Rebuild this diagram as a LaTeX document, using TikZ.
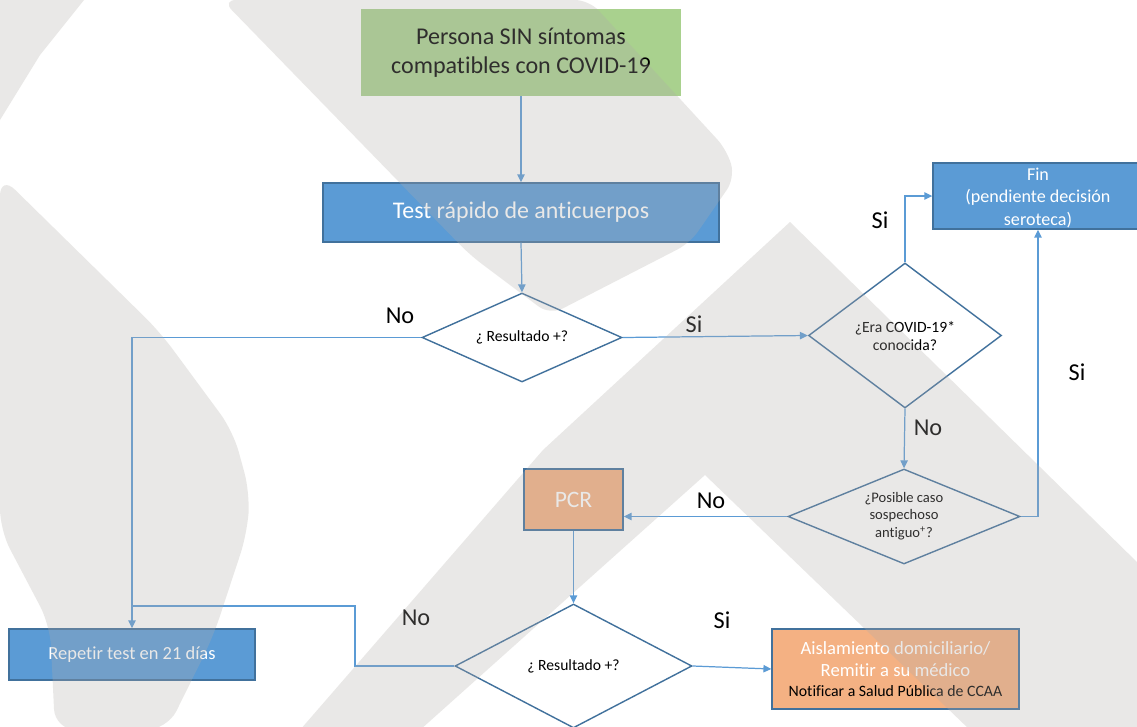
\documentclass[tikz,border=0pt]{standalone}
\usepackage{fontspec}
\setmainfont{Carlito}[Ligatures=NoCommon]
\usetikzlibrary{shapes.geometric,arrows.meta}
\definecolor{boxblue}{RGB}{91,155,213}
\definecolor{boxborder}{RGB}{65,113,156}
\definecolor{boxgreen}{RGB}{169,209,142}
\definecolor{boxorange}{RGB}{244,177,131}
\definecolor{connblue}{RGB}{91,155,213}
\definecolor{wmgray}{RGB}{176,172,169}
\begin{document}
\begin{tikzpicture}[x=0.02cm,y=-0.02cm,
  box/.style={rectangle,inner sep=0pt,align=center},
  bluebox/.style={box,fill=boxblue,draw=boxborder,line width=0.8pt,text=white},
  orangebox/.style={box,fill=boxorange,draw=boxborder,line width=0.8pt,text=white},
  dia/.style={diamond,draw=boxborder,line width=0.8pt,inner sep=0pt},
  diatext/.style={inner sep=0pt,align=center,text=black},
  conn/.style={draw=connblue,line width=0.7pt},
  arr/.style={conn,-{Triangle[length=4.5pt,width=4.2pt]}},
  lbl/.style={inner sep=0pt,font=\fontsize{13.8}{16}\selectfont},
  wm/.style={fill=wmgray,opacity=0.27}
]
\useasboundingbox (0,0) rectangle (1137,727);
\fill[white] (0,0) rectangle (1137,727);

% boxes
\node[box,fill=boxgreen,minimum width=6.4cm,minimum height=1.74cm,
      font=\fontsize{13.7}{16.5}\selectfont] (green) at (521,52.5)
      {Persona SIN síntomas\\compatibles con COVID-19};
\node[bluebox,minimum width=7.92cm,minimum height=1.18cm,
      font=\fontsize{13.6}{16}\selectfont] (test) at (521,212.5)
      {Test rápido de anticuerpos};
\node[bluebox,minimum width=4.2cm,minimum height=1.32cm] (fin) at (1038,196) {};
\node[inner sep=0pt,align=center,text=white,font=\fontsize{10.3}{12.8}\selectfont]
      (fint) at (1038,198) {Fin\\(pendiente decisión\\seroteca)};
\node[orangebox,minimum width=1.98cm,minimum height=1.22cm,
      font=\fontsize{13.4}{16}\selectfont] (pcr) at (573.5,499.5) {PCR};
\node[bluebox,minimum width=4.92cm,minimum height=1.02cm,
      font=\fontsize{10.5}{12.6}\selectfont] (rep) at (132,654.5)
      {Repetir test en 21 días};
\node[orangebox,minimum width=4.94cm,minimum height=1.6cm,
      font=\fontsize{10.6}{12.6}\selectfont] (ais) at (895.5,669)
      {Aislamiento domiciliario/\\Remitir a su médico\\[-1.5pt]
       {\fontsize{9}{11}\selectfont\color{black}Notificar a Salud Pública de CCAA}};

% decisions
\node[dia,minimum width=4cm,minimum height=1.78cm] (d1) at (522,337.5) {};
\node[diatext,font=\fontsize{8.9}{10.5}\selectfont] (d1t) at (d1) {¿ Resultado +?};
\node[dia,minimum width=3.86cm,minimum height=2.9cm] (d2) at (905,335.5) {};
\node[diatext,font=\fontsize{8.9}{10.3}\selectfont] (d2t) at (905,336) {¿Era COVID-19*\\conocida?};
\node[dia,minimum width=4.64cm,minimum height=1.9cm] (d3) at (904,516.5) {};
\node[diatext,font=\fontsize{8.3}{10}\selectfont] (d3t) at (904,516) {¿Posible caso\\sospechoso\\antiguo\textsuperscript{+}?};
\node[dia,minimum width=4.74cm,minimum height=2.48cm] (d4) at (573.5,666) {};
\node[diatext,font=\fontsize{8.9}{10.5}\selectfont] (d4t) at (d4) {¿ Resultado +?};

% connectors
\draw[arr] (green.south) -- (test.north);
\draw[arr] (test.south) -- (d1.north);
\draw[arr] (d1.west) -| (rep.north);
\draw[arr] (d1.east) -- (d2.west);
\draw[arr] (d2.north) |- (fin.west);
\draw[arr] (d2.south) -- (d3.north);
\draw[arr] (d3.east) -| (fin.south);
\draw[arr] (d3.west) -- (d3.west -| pcr.east);
\draw[arr] (pcr.south) -- (d4.north);
\coordinate (bend) at (355,606);
\coordinate (join) at (rep.north |- bend);
\draw[conn] (d4.west) -| (bend) -- (join);
\draw[arr] (d4.east) -- (ais.west);

% labels
\node[lbl] (l1) at (400,316) {No};
\node[lbl] (l2) at (694,324) {Si};
\node[lbl] (l3) at (880,220) {Si};
\node[lbl] (l4) at (928,428) {No};
\node[lbl] (l5) at (1077,372) {Si};
\node[lbl] (l6) at (711,501) {No};
\node[lbl] (l7) at (416,618) {No};
\node[lbl] (l8) at (722,620) {Si};

% watermark
\fill[wm] (0,0) -- (84,0) -- (40,55) -- (0,120) -- cycle;
\fill[wm,rounded corners=8pt] (222,0) -- (589,0) -- (727,150) -- (735,178) -- (690,243) -- (550,315) -- (470,255) -- cycle;
\fill[wm,rounded corners=12pt] (0,175) -- (160,332) -- (233,431) -- (250,493) -- (247,534) -- (213,637) -- (167,730) -- (55,730) -- (50,625) -- (0,530) -- cycle;
\fill[wm] (790,222) -- (1140,565) -- (1140,730) -- (970,730) -- (705,475) -- (420,730) -- (300,730) -- (543,450) -- cycle;
\end{tikzpicture}
\end{document}
